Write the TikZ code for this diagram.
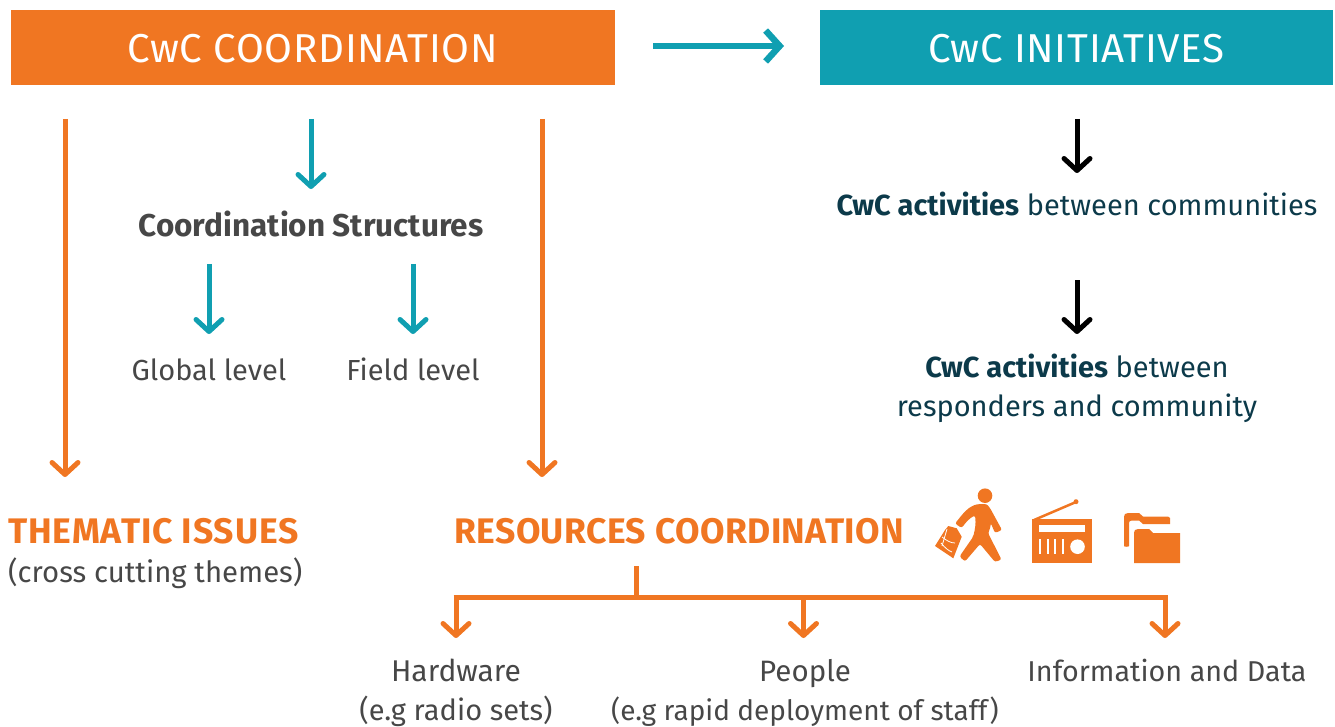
\documentclass[tikz,border=0pt]{standalone}
\usepackage{fontspec}
\setmainfont{Fira Sans}
\usetikzlibrary{arrows.meta}
\definecolor{cwcorange}{HTML}{F07622}
\definecolor{cwcteal}{HTML}{109FB1}
\definecolor{cwcgrey}{HTML}{474747}
\definecolor{cwcnavy}{HTML}{0C3A4A}
\newfontfamily\headf[LetterSpace=1.8]{Fira Sans}
\newfontfamily\themf[LetterSpace=2.4]{Fira Sans Bold}
\newfontfamily\resf[LetterSpace=1.2]{Fira Sans Bold}
\tikzset{
  x=1pt,y=-1pt,
  headbox/.style={text=white,font=\fontsize{40.3}{40.3}\headf\selectfont,text height=53pt,text depth=22pt,inner sep=0pt,anchor=center},
  lab/.style={inner sep=0pt,text=cwcgrey,font=\fontsize{29}{29}\selectfont,anchor=base},
  orhead/.style={inner sep=0pt,text=cwcorange,anchor=base west},
  navy/.style={inner sep=0pt,text=cwcnavy,font=\fontsize{29}{29}\selectfont,anchor=base},
  arrbase/.style={line width=#1,-{Straight Barb[length=12pt,width=26pt,line width=#1,round=false]}},
  orarrow/.style={arrbase=5pt,draw=cwcorange},
  tearrow/.style={arrbase=5pt,draw=cwcteal},
  blarrow/.style={arrbase=5pt,draw=black},
  trunk/.style={line width=5pt,draw=cwcorange},
}
\begin{document}
\begin{tikzpicture}
\useasboundingbox (0,0) rectangle (1335,727);
% header boxes
\node[headbox,fill=cwcorange,minimum width=604pt] (coord) at (313,47.5) {CwC COORDINATION};
\node[headbox,fill=cwcteal,minimum width=513pt] (init) at (1076.5,47.5) {CwC INITIATIVES};
\draw[tearrow,line width=6pt,-{Straight Barb[length=14pt,width=31pt,line width=6.5pt]}] (653,46) -- (784,46);
% left column labels
\node[lab,font=\fontsize{31.5}{31.5}\selectfont\bfseries] (cs) at (311,236.5) {Coordination Structures};
\node[lab] (gl) at (209,380) {Global level};
\node[lab] (fl) at (413,380) {Field level};
\node[orhead,font=\fontsize{35.5}{35.5}\themf\selectfont] (them) at (8,543) {THEMATIC ISSUES};
\node[lab,anchor=base west,font=\fontsize{29.3}{29.3}\selectfont] (cross) at (8,582) {(cross cutting themes)};
\node[orhead,font=\fontsize{35.5}{35.5}\resf\selectfont] (res) at (454,543) {RESOURCES COORDINATION};
% right column labels
\node[navy] (a1) at (1077,216) {\textbf{CwC activities} between communities};
\node[navy] (a2) at (1077,377) {\textbf{CwC activities} between};
\node[navy] (a3) at (1077,416) {responders and community};
% bottom labels
\node[lab,font=\fontsize{30}{30}\selectfont] (hw) at (456,681) {Hardware};
\node[lab] (hw2) at (456,720) {(e.g radio sets)};
\node[lab,font=\fontsize{29.5}{29.5}\selectfont] (pe) at (805,681) {People};
\node[lab,font=\fontsize{28}{28}\selectfont] (pe2) at (805,720) {(e.g rapid deployment of staff)};
\node[lab,font=\fontsize{28.7}{28.7}\selectfont] (inf) at (1167,681) {Information and Data};
% free ends
\coordinate (s1) at (65,119);
\coordinate (e1) at (65,477);
\coordinate (s2) at (311,119);
\coordinate (e2) at (311,189);
\coordinate (s3) at (542,119);
\coordinate (e3) at (542,477);
\coordinate (s4) at (209,264);
\coordinate (e4) at (209,334);
\coordinate (s5) at (413,264);
\coordinate (e5) at (413,334);
\coordinate (s6) at (1077,119);
\coordinate (e6) at (1077,173);
\coordinate (s7) at (1077,280);
\coordinate (e7) at (1077,334);
\coordinate (j0) at (636,566);
\coordinate (j1) at (636,597);
\coordinate (h0) at (456,597);
\coordinate (h1) at (456,638);
\coordinate (p0) at (803.5,597);
\coordinate (p1) at (803.5,638);
\coordinate (i0) at (1165,597);
\coordinate (i1) at (1165,638);
% arrows
\draw[orarrow] (s1) -- (e1);
\draw[tearrow] (s2) -- (e2);
\draw[orarrow] (s3) -- (e3);
\draw[tearrow] (s4) -- (e4);
\draw[tearrow] (s5) -- (e5);
\draw[blarrow] (s6) -- (e6);
\draw[blarrow] (s7) -- (e7);
\draw[trunk] (j0) -- (j1);
\draw[trunk,line cap=butt] ([xshift=-2.5pt]h0) -- ([xshift=2.5pt]i0);
\draw[orarrow] ([yshift=-2.5pt]h0) -- (h1);
\draw[orarrow] (p0) -- (p1);
\draw[orarrow] ([yshift=-2.5pt]i0) -- (i1);
% person icon
\begin{scope}[cwcorange]
\fill (985,495.7) circle (7.3);
\fill[rounded corners=2.2pt] (979.3,504) .. controls (968,506) and (962,515) .. (955,523.5) -- (961.7,528) .. controls (966,522) and (970,518) .. (975,515.5)
  .. controls (976,523) and (975,530) .. (973,537) -- (959.5,556.5) -- (965,561.5) -- (980,544) -- (995,562) -- (1001.5,559.5) -- (988,533)
  .. controls (990,529) and (990.5,526) .. (990.7,523) -- (995,533) -- (1002,530) -- (990,508) -- (986.7,504) -- cycle;
% bag
\fill (935,546) -- (945,530) -- (948.3,526) -- (956.7,528.3) -- (961.7,536.7) -- (953.3,558.3) -- cycle;
\draw[white,line width=.8pt] (942,537) .. controls (947,541) and (951,543) .. (955,543);
\draw[white,line width=.8pt] (941,543) .. controls (945,548) and (949,551) .. (952,552);
\draw[white,line width=.8pt] (947,529) -- (942,546);
% radio
\draw[line width=2.5pt] (1034,520) -- (1076,502);
\fill (1076,501.7) circle (2.5);
\fill (1032,519.3) rectangle (1092,563);
\fill[white] (1039,525) rectangle (1085,532.3);
\foreach \x in {1039,1046.5,1054,1061.5}{\fill[white] (\x,539) rectangle (\x+2.4,554);}
\fill[white] (1077.5,546.7) circle (7.3);
% folder
\fill (1124,546) -- (1124,517) .. controls (1124,514.5) and (1125,513) .. (1128,513) -- (1139,513) -- (1143,516.5) -- (1168,516.5) -- (1170,518) -- (1170,524) -- (1143,524) -- (1139,520.5) -- (1132,520.5) .. controls (1130,520.5) and (1129,521.5) .. (1129,523) -- (1129,546) .. controls (1129,547) and (1124,547) .. (1124,546) -- cycle;
\fill (1134,563) -- (1134,533) .. controls (1134,530.5) and (1135,529) .. (1138,529) -- (1149,529) -- (1153,533) -- (1180,533) -- (1180,563) -- cycle;
\end{scope}
\end{tikzpicture}
\end{document}
